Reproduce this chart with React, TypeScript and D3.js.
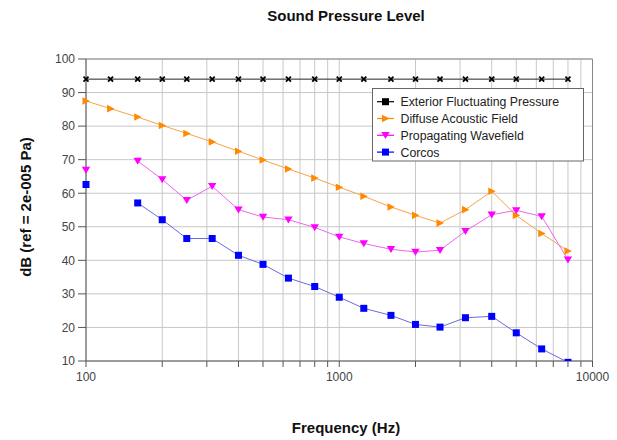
import React from 'react';
import * as d3 from 'd3';

// third-octave band centres
const freqs = [100, 125, 160, 200, 250, 315, 400, 500, 630, 800, 1000, 1250, 1600, 2000, 2500, 3150, 4000, 5000, 6300, 8000];

const exterior = [94, 94, 94, 94, 94, 94, 94, 94, 94, 94, 94, 94, 94, 94, 94, 94, 94, 94, 94, 94];
const diffuse = [87.5, 85.2, 82.7, 80.2, 77.8, 75.3, 72.5, 69.9, 67.2, 64.5, 61.8, 59.1, 55.9, 53.4, 51.1, 55.1, 60.6, 53.4, 48.0, 42.8];
const propagating = [66.9, null, 69.6, 64.1, 57.9, 62.1, 55.1, 52.9, 52.1, 49.8, 47.0, 45.0, 43.3, 42.5, 43.0, 48.7, 53.6, 54.9, 53.1, 40.2];
const corcos = [62.6, null, 57.1, 52.1, 46.5, 46.5, 41.5, 38.8, 34.7, 32.2, 29.0, 25.7, 23.6, 20.9, 20.1, 22.9, 23.3, 18.4, 13.6, 9.6];

const yTicks = [10, 20, 30, 40, 50, 60, 70, 80, 90, 100];
const xLabels = [100, 1000, 10000];

const seriesNames = ['Exterior Fluctuating Pressure', 'Diffuse Acoustic Field', 'Propagating Wavefield', 'Corcos'];

type Series = { name: string; values: (number | null)[]; line: string; fill: string; shape: string };

const series: Series[] = [
  { name: seriesNames[0], values: exterior, line: '#222', fill: '#000', shape: 'x' },
  { name: seriesNames[1], values: diffuse, line: '#f5a445', fill: '#ff8a00', shape: 'right' },
  { name: seriesNames[2], values: propagating, line: '#ee66ee', fill: '#ff00ff', shape: 'down' },
  { name: seriesNames[3], values: corcos, line: '#6a6ae0', fill: '#0000ff', shape: 'square' },
];

const W = 617, H = 440;
const left = 86, right = 592.5, top = 59, bottom = 361;
const font = '"Liberation Sans", Arial, sans-serif';

const x = d3.scaleLog().domain([100, 10000]).range([left, right]);
const y = d3.scaleLinear().domain([10, 100]).range([bottom, top]);

// every minor decade line 100..10000
const gridX: number[] = [];
for (let dec = 100; dec < 10000; dec *= 10) {
  for (let k = 1; k < 10; k++) gridX.push(dec * k);
}
gridX.push(10000);

const Marker = ({ shape, cx, cy, fill }: { shape: string; cx: number; cy: number; fill: string }) => {
  if (shape === 'square') return <rect x={cx - 3.5} y={cy - 3.5} width={7} height={7} fill={fill} />;
  if (shape === 'right') return <path d={`M${cx - 3.5},${cy - 3.8}L${cx + 4},${cy}L${cx - 3.5},${cy + 3.8}Z`} fill={fill} />;
  if (shape === 'down') return <path d={`M${cx - 4.2},${cy - 3.2}L${cx + 4.2},${cy - 3.2}L${cx},${cy + 3.8}Z`} fill={fill} />;
  return (
    <g stroke={fill} strokeWidth={1.8}>
      <line x1={cx - 2.5} y1={cy - 2.5} x2={cx + 2.5} y2={cy + 2.5} />
      <line x1={cx - 2.5} y1={cy + 2.5} x2={cx + 2.5} y2={cy - 2.5} />
    </g>
  );
};

const App = () => {
  const line = d3.line<number | null>()
    .defined(d => d !== null)
    .x((_, i) => x(freqs[i]))
    .y(d => y(d as number));

  const legX = 372.5, legY = 88.5, legW = 211, legH = 72.5;

  return (
    <svg width={W} height={H} style={{ position: 'absolute', left: 0, top: 0, background: '#fff' }} fontFamily={font}>
      <defs>
        <clipPath id="plotClip">
          <rect x={left - 6} y={top} width={right - left + 12} height={bottom - top} />
        </clipPath>
      </defs>

      <text x={346} y={21} textAnchor="middle" fontSize={15} fontWeight="bold" fill="#111">Sound Pressure Level</text>

      {/* grid */}
      {yTicks.map(t => (
        <line key={'gy' + t} x1={left} x2={right} y1={y(t)} y2={y(t)} stroke="#c8c8c8" strokeWidth={1} />
      ))}
      {gridX.map(f => (
        <line key={'gx' + f} x1={x(f)} x2={x(f)} y1={top} y2={bottom} stroke="#c8c8c8" strokeWidth={1} />
      ))}

      {/* frame */}
      <line x1={left} x2={right} y1={top} y2={top} stroke="#888" />
      <line x1={right} x2={right} y1={top} y2={bottom} stroke="#888" />
      <line x1={left} x2={left} y1={top} y2={bottom} stroke="#555" />
      <line x1={left} x2={right} y1={bottom} y2={bottom} stroke="#555" />

      {/* y axis */}
      {yTicks.map(t => (
        <g key={'ty' + t}>
          <line x1={left - 8} x2={left} y1={y(t)} y2={y(t)} stroke="#555" />
          <text x={left - 11} y={y(t) + 4.3} textAnchor="end" fontSize={12} fill="#444">{t}</text>
        </g>
      ))}
      {/* x axis */}
      {gridX.map(f => (
        <line key={'tx' + f} x1={x(f)} x2={x(f)} y1={bottom} y2={bottom + 6} stroke="#555" />
      ))}
      {xLabels.map(f => (
        <text key={'lx' + f} x={x(f)} y={381} textAnchor="middle" fontSize={12} fill="#444">{f}</text>
      ))}

      <text x={346} y={432.5} textAnchor="middle" fontSize={15} fontWeight="bold" fill="#111">Frequency (Hz)</text>
      <text transform={`translate(30.5,207) rotate(-90)`} textAnchor="middle" fontSize={15} fontWeight="bold" fill="#111">dB (ref = 2e-005 Pa)</text>

      {/* series */}
      <g clipPath="url(#plotClip)">
        {series.map(s => (
          <path key={s.name} d={line(s.values) || ''} fill="none" stroke={s.line} strokeWidth={1} />
        ))}
        {series.map(s => (
          <g key={s.name + 'm'}>
            {s.values.map((v, i) => v === null ? null : (
              <Marker key={i} shape={s.shape} cx={x(freqs[i])} cy={y(v)} fill={s.fill} />
            ))}
          </g>
        ))}
      </g>

      {/* legend */}
      <rect x={legX} y={legY} width={legW} height={legH} fill="#fff" stroke="#666" strokeWidth={1} />
      {series.map((s, i) => {
        const cy = 101.7 + i * 16.8;
        return (
          <g key={s.name + 'l'}>
            <line x1={377} x2={394} y1={cy} y2={cy} stroke={s.shape === 'x' ? '#000' : s.fill} strokeWidth={1.2} />
            <Marker shape={s.shape === 'x' ? 'square' : s.shape} cx={385.5} cy={cy} fill={s.fill} />
            <text x={400.5} y={cy + 4.4} fontSize={12.3} fill="#222">{s.name}</text>
          </g>
        );
      })}
    </svg>
  );
};

export default App;
